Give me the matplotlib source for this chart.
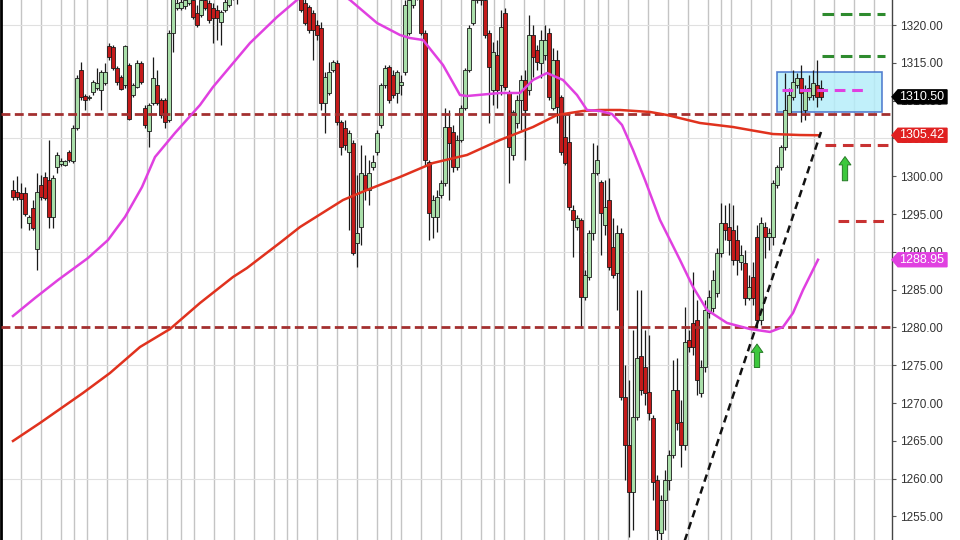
import matplotlib
matplotlib.use("Agg")
import matplotlib.pyplot as plt
from matplotlib.patches import Rectangle, Polygon
import numpy as np

plt.rcParams['font.family'] = ['Liberation Sans', 'DejaVu Sans']

# OHLC (one bar per entry)
opens = [1298.2, 1297.9, 1297.8, 1297.8, 1293.8, 1295.8, 1290.4, 1298.8, 1299.9, 1299.5,
         1294.6, 1301.2, 1301.6, 1301.5, 1303.2, 1302.0, 1306.4, 1314.1, 1310.6, 1310.3,
         1311.1, 1311.7, 1311.4, 1312.3, 1317.2, 1317.1, 1314.3, 1313.1, 1312.1, 1314.7,
         1310.7, 1311.8, 1315.0, 1309.0, 1306.0, 1309.7, 1312.1, 1310.1, 1310.1, 1307.4,
         1318.9, 1322.3, 1322.3, 1322.5, 1322.9, 1323.3, 1321.6, 1321.3, 1323.3, 1322.9,
         1322.3, 1322.0, 1320.4, 1322.0, 1322.6, 1323.7, 1324.4, 1324.0, 1325.3, 1326.2,
         1327.3, 1326.6, 1328.3, 1329.3, 1328.6, 1329.9, 1328.9, 1327.9, 1328.6, 1327.3,
         1326.2, 1325.3, 1324.0, 1322.9, 1322.4, 1321.6, 1320.0, 1319.6, 1309.7, 1311.0,
         1314.1, 1315.0, 1307.2, 1306.4, 1303.2, 1304.4, 1291.2, 1293.3, 1300.2, 1298.2,
         1301.2, 1303.2, 1306.8, 1312.1, 1314.4, 1313.4, 1311.0, 1312.1, 1313.8, 1318.9,
         1322.6, 1324.6, 1324.0, 1318.9, 1301.9, 1294.6, 1294.6, 1297.5, 1299.1, 1306.5,
         1305.8, 1301.2, 1304.8, 1309.0, 1314.1, 1320.3, 1323.3, 1324.4, 1323.3, 1318.9,
         1311.4, 1316.0, 1312.1, 1321.6, 1311.0, 1302.8, 1307.0, 1310.1, 1312.7, 1311.4,
         1318.7, 1316.7, 1315.0, 1316.0, 1318.9, 1309.0, 1315.4, 1310.5, 1305.2, 1304.5,
         1295.5, 1293.3, 1294.2, 1284.0, 1286.7, 1292.5, 1300.4, 1299.2, 1293.5, 1296.8,
         1290.6, 1287.2, 1292.5, 1270.8, 1264.4, 1258.2, 1268.1, 1276.2, 1274.7, 1271.5,
         1268.0, 1259.8, 1252.8, 1257.2, 1259.8, 1263.1, 1271.7, 1267.5, 1264.4, 1278.3,
         1280.6, 1281.0, 1271.3, 1274.7, 1281.9, 1282.6, 1284.6, 1289.8, 1293.8, 1293.3,
         1292.9, 1291.6, 1288.6, 1288.5, 1283.9, 1286.7, 1292.0, 1281.0, 1293.3, 1292.0,
         1292.0, 1298.8, 1301.2, 1303.9, 1308.4, 1310.5, 1312.1, 1313.0, 1308.8, 1310.5,
         1310.7, 1312.1, 1311.7]
highs = [1299.5, 1300.0, 1299.1, 1298.6, 1294.9, 1296.8, 1300.4, 1300.2, 1300.6, 1304.8,
         1300.2, 1303.2, 1302.4, 1302.1, 1303.5, 1306.8, 1313.4, 1315.1, 1310.9, 1310.7,
         1312.7, 1314.3, 1314.1, 1315.0, 1317.6, 1317.4, 1314.6, 1313.4, 1317.4, 1315.0,
         1312.3, 1315.4, 1315.2, 1309.4, 1309.7, 1315.8, 1314.1, 1310.3, 1310.3, 1319.3,
         1324.6, 1323.6, 1323.7, 1324.0, 1324.4, 1324.0, 1322.6, 1324.0, 1324.0, 1323.3,
         1322.9, 1322.6, 1322.0, 1323.6, 1324.4, 1325.3, 1325.3, 1326.0, 1327.0, 1327.9,
         1328.3, 1328.9, 1329.9, 1330.2, 1330.6, 1330.7, 1329.5, 1329.3, 1329.1, 1327.9,
         1326.9, 1326.0, 1324.6, 1324.0, 1322.6, 1322.0, 1320.7, 1320.4, 1313.8, 1315.1,
         1315.4, 1315.4, 1307.4, 1307.4, 1306.1, 1304.8, 1300.2, 1304.1, 1302.8, 1302.1,
         1302.8, 1306.1, 1312.3, 1314.7, 1314.7, 1314.1, 1314.1, 1313.4, 1323.3, 1324.0,
         1324.6, 1325.3, 1324.6, 1319.3, 1302.1, 1297.5, 1298.2, 1299.5, 1309.0, 1308.8,
         1306.8, 1305.5, 1309.4, 1314.3, 1320.0, 1324.0, 1324.9, 1324.9, 1324.0, 1319.3,
         1317.8, 1318.0, 1322.0, 1322.3, 1311.4, 1308.8, 1310.7, 1313.4, 1314.1, 1321.3,
         1320.0, 1317.4, 1319.3, 1320.0, 1319.6, 1317.0, 1316.7, 1310.7, 1308.1, 1308.4,
         1296.2, 1294.9, 1294.5, 1287.6, 1292.9, 1304.4, 1304.1, 1299.5, 1299.5, 1299.8,
         1294.5, 1293.5, 1293.2, 1275.0, 1273.0, 1279.7, 1284.9, 1284.9, 1279.7, 1279.0,
         1268.4, 1260.5, 1257.8, 1261.1, 1263.8, 1275.7, 1276.0, 1270.4, 1282.7, 1279.7,
         1287.3, 1283.6, 1275.7, 1283.6, 1284.9, 1287.6, 1290.5, 1296.5, 1296.2, 1296.5,
         1296.2, 1293.5, 1290.9, 1290.2, 1286.9, 1288.6, 1293.5, 1294.6, 1293.9, 1293.2,
         1299.5, 1301.5, 1304.1, 1313.7, 1311.7, 1314.1, 1313.7, 1314.7, 1312.1, 1313.4,
         1314.1, 1315.4, 1312.7]
lows = [1296.8, 1296.8, 1293.2, 1294.7, 1292.9, 1292.9, 1287.6, 1296.8, 1296.8, 1293.2,
        1293.2, 1300.4, 1301.3, 1301.3, 1301.9, 1301.7, 1306.1, 1310.1, 1308.8, 1310.1,
        1310.7, 1311.4, 1308.8, 1312.1, 1315.4, 1314.1, 1312.1, 1311.4, 1311.7, 1307.4,
        1310.5, 1311.7, 1312.2, 1306.4, 1303.9, 1309.4, 1309.4, 1307.7, 1306.4, 1307.2,
        1316.4, 1322.0, 1322.0, 1322.1, 1322.6, 1320.8, 1319.7, 1321.1, 1322.0, 1320.3,
        1317.6, 1318.0, 1317.4, 1321.7, 1322.4, 1323.3, 1322.8, 1323.6, 1324.9, 1325.7,
        1326.0, 1326.2, 1327.7, 1328.1, 1328.2, 1328.3, 1327.3, 1327.0, 1326.7, 1325.7,
        1324.6, 1323.7, 1321.7, 1320.0, 1318.9, 1315.4, 1318.0, 1308.8, 1305.7, 1310.7,
        1313.8, 1306.8, 1302.8, 1303.5, 1292.9, 1289.6, 1288.0, 1290.9, 1296.8, 1296.2,
        1300.8, 1302.8, 1306.4, 1311.7, 1309.7, 1310.3, 1309.7, 1310.7, 1313.4, 1318.7,
        1322.3, 1323.3, 1318.7, 1301.5, 1291.6, 1291.8, 1292.6, 1297.1, 1298.7, 1296.8,
        1300.6, 1300.8, 1304.5, 1308.8, 1313.8, 1320.0, 1322.9, 1322.6, 1318.3, 1307.0,
        1309.4, 1309.0, 1310.7, 1311.4, 1299.1, 1302.1, 1306.4, 1306.1, 1302.1, 1310.7,
        1313.1, 1314.1, 1313.0, 1315.4, 1310.1, 1308.8, 1307.0, 1302.8, 1301.5, 1295.5,
        1289.3, 1292.9, 1279.9, 1283.6, 1286.3, 1291.6, 1300.2, 1289.6, 1292.2, 1287.6,
        1286.5, 1282.3, 1270.4, 1259.8, 1252.3, 1253.2, 1267.7, 1271.1, 1269.7, 1267.7,
        1257.2, 1251.2, 1251.2, 1253.2, 1258.5, 1262.7, 1266.4, 1261.5, 1263.8, 1276.7,
        1276.3, 1271.1, 1270.8, 1274.1, 1281.2, 1282.0, 1284.0, 1289.3, 1291.6, 1289.6,
        1288.2, 1286.9, 1287.6, 1283.0, 1283.6, 1283.0, 1279.9, 1280.3, 1289.2, 1290.2,
        1290.9, 1298.4, 1300.8, 1303.5, 1308.1, 1310.1, 1311.7, 1307.2, 1307.4, 1310.1,
        1310.1, 1309.2, 1310.1]
closes = [1297.2, 1297.2, 1297.0, 1295.0, 1294.6, 1293.2, 1297.9, 1297.2, 1297.1, 1294.6,
          1299.8, 1302.8, 1302.0, 1302.0, 1302.1, 1306.4, 1313.0, 1310.5, 1310.1, 1310.5,
          1312.5, 1312.3, 1313.8, 1313.8, 1315.8, 1314.3, 1312.5, 1311.5, 1317.2, 1307.6,
          1312.1, 1315.0, 1312.5, 1306.8, 1309.4, 1313.0, 1309.7, 1308.1, 1307.2, 1318.9,
          1324.0, 1322.9, 1323.0, 1323.3, 1323.7, 1321.1, 1320.0, 1323.3, 1322.3, 1320.7,
          1320.9, 1320.9, 1321.7, 1323.0, 1323.7, 1324.6, 1323.6, 1325.3, 1326.2, 1327.3,
          1326.6, 1328.3, 1329.3, 1328.6, 1329.9, 1328.9, 1327.9, 1328.6, 1327.3, 1326.2,
          1325.3, 1324.1, 1322.0, 1320.3, 1319.3, 1319.3, 1318.7, 1309.7, 1313.1, 1313.8,
          1315.1, 1307.2, 1303.9, 1304.1, 1305.7, 1289.8, 1292.5, 1300.4, 1298.2, 1300.4,
          1301.9, 1305.7, 1312.1, 1314.3, 1310.1, 1310.7, 1313.8, 1312.5, 1322.6, 1323.3,
          1324.0, 1323.7, 1318.9, 1302.1, 1295.1, 1296.8, 1297.2, 1299.1, 1306.5, 1304.4,
          1301.2, 1304.8, 1309.0, 1314.1, 1319.6, 1323.3, 1324.4, 1323.3, 1318.7, 1314.4,
          1316.4, 1311.4, 1319.7, 1311.8, 1303.9, 1308.5, 1310.1, 1312.7, 1308.8, 1318.7,
          1315.8, 1315.1, 1318.0, 1318.0, 1310.5, 1315.4, 1309.2, 1303.2, 1301.7, 1295.9,
          1294.2, 1294.5, 1284.0, 1286.9, 1292.5, 1300.4, 1302.1, 1295.1, 1295.9, 1288.0,
          1286.9, 1292.5, 1270.8, 1264.4, 1258.2, 1268.1, 1276.0, 1271.7, 1271.3, 1268.7,
          1259.6, 1253.2, 1257.2, 1259.8, 1263.1, 1271.7, 1267.3, 1264.4, 1278.1, 1277.4,
          1277.4, 1273.0, 1274.7, 1282.3, 1284.0, 1286.3, 1289.8, 1293.8, 1292.9, 1291.6,
          1288.9, 1288.9, 1289.6, 1283.9, 1285.3, 1283.9, 1281.0, 1293.8, 1292.0, 1292.5,
          1299.1, 1301.2, 1303.9, 1308.8, 1310.7, 1312.5, 1313.0, 1311.0, 1311.4, 1311.7,
          1312.3, 1310.5, 1310.5]

# moving averages (bar index, price)
slow_x = [0, 6.75, 17.5, 24.25, 31.75, 39.25, 46.75, 55, 58.5, 66.75, 71.75, 82.5, 88.5,
          96.75, 105, 113.5, 121.75, 130, 136, 142.5, 146.75, 151.75, 159.25, 163.5, 171.75,
          180, 184.25, 190, 196.75, 201.25]
slow_ma = [1264.98, 1267.36, 1271.33, 1273.97, 1277.41, 1279.79, 1283.23, 1286.67, 1287.86,
           1291.2, 1293.28, 1296.85, 1298.18, 1299.90, 1301.75, 1302.81, 1304.79, 1306.51,
           1308.10, 1308.63, 1308.76, 1308.76, 1308.50, 1308.10, 1307.04, 1306.51, 1306.11,
           1305.58, 1305.45, 1305.42]
fast_x = [0, 5.5, 11.25, 18.75, 23.75, 28, 32.25, 35.5, 40.5, 46.75, 50, 59.25, 66, 71,
          76.75, 80.5, 84.25, 91, 96.75, 99.25, 102.5, 107.5, 111.75, 113.5, 121.75, 126.75,
          130, 133.5, 137.5, 141, 143.5, 146.75, 149.75, 152.25, 155, 158, 161.75, 166.75,
          170, 173.5, 178.5, 184.25, 189.25, 192.5, 195, 197.5, 201.25]
fast_ma = [1281.51, 1283.89, 1286.27, 1289.18, 1291.56, 1294.61, 1298.57, 1302.54, 1305.72,
           1309.42, 1311.80, 1317.62, 1321.06, 1323.31, 1325.3, 1324.6, 1323.31, 1320.27,
           1318.68, 1318.28, 1318.02, 1314.71, 1310.74, 1310.61, 1311.01, 1311.01, 1312.73,
           1313.65, 1312.73, 1310.74, 1308.76, 1308.63, 1308.23, 1306.78, 1303.47, 1299.50,
           1294.21, 1288.92, 1285.35, 1282.31, 1280.59, 1279.79, 1279.40, 1280.06, 1281.91,
           1284.95, 1288.95]

levels = [1308.2, 1280.0]
targets_up = [1321.46, 1315.90]
target_pivot = 1311.41
stop_hi = 1304.13
stop_lo = 1294.12
box_lo, box_hi = 1308.5, 1313.8
trend_x = [167.75, 202]
trend_y = [1251.5, 1305.85]
session_x = [2, 7, 12, 15.25, 18.6, 23.6, 28.6, 33.6, 38.6, 42, 45.25, 50.25, 55.25, 60.25,
             65.25, 68.6, 71.1, 76.1, 81.1, 86.1, 91.1, 94.5, 97, 102, 107, 112, 117, 120.25,
             122.75, 127.75, 132.75, 137.75, 142.75, 146.25, 148.75, 153.75, 158.75, 163.75,
             168.75, 173.75, 177, 179.5, 184.5, 189.5, 194.5, 200.25, 205.25, 210.25, 215.25]
price_ticks = np.arange(1255, 1321, 5)
hgrid = [1260, 1275, 1290, 1305, 1320]

o = np.array(opens)
c = np.array(closes)
idx = np.arange(len(c))

fig = plt.figure(figsize=(9.6, 5.4), dpi=100)
ax = fig.add_axes([1 / 960, 0, 891 / 960, 1])
ax.set_xlim(-3, 219.75)
ax.set_ylim(1251.88, 1323.31)

for g in session_x:
    ax.axvline(g, color='#c4c4c4', lw=1, zorder=0)
for h in hgrid:
    ax.axhline(h, color='#e0e0e0', lw=0.8, zorder=0)

ax.add_patch(Rectangle((191, box_lo), 26.25, box_hi - box_lo, fc='#b6eefa', ec='#3c6cc8',
                       lw=1.2, alpha=0.85, zorder=1.5))

cols = np.where(c >= o, '#a9dea9', '#c41a1a')
ax.vlines(idx, lows, highs, color='#1a1a1a', lw=0.9, zorder=2)
ax.bar(idx, np.abs(c - o), bottom=np.minimum(o, c), width=1.1, color=cols,
       edgecolor='#1a1a1a', linewidth=0.6, zorder=3)

for lv in levels:
    ax.axhline(lv, color='#a33030', lw=2, ls=(0, (3.2, 1.6)), zorder=4)

ax.plot(slow_x, slow_ma, color='#e0321e', lw=1.8, zorder=5)
ax.plot(fast_x, fast_ma, color='#e040e0', lw=1.8, zorder=5)
ax.plot(trend_x, trend_y, color='#111111', lw=1.8, ls=(0, (3, 2)), zorder=5)

ax.hlines(targets_up, 202.25, 218, color='#2e8b2e', lw=2.2, ls=(0, (3.8, 2.2)), zorder=5)
ax.hlines(target_pivot, 192.25, 213.75, color='#e040e0', lw=2.2, ls=(0, (3.5, 2.2)), zorder=5)
ax.hlines(stop_hi, 203, 218.75, color='#c83232', lw=2.2, ls=(0, (3.5, 2.2)), zorder=5)
ax.hlines(stop_lo, 206.25, 218, color='#c83232', lw=2.2, ls=(0, (3.5, 2.2)), zorder=5)

arrow_style = dict(arrowstyle='simple,head_length=0.6,head_width=0.85,tail_width=0.38',
                   fc='#3cc83c', ec='#267a26', lw=0.7, shrinkA=0, shrinkB=0, mutation_scale=10)
ax.annotate('', xy=(208, 1302.6), xytext=(208, 1299.4), arrowprops=arrow_style, zorder=6)
ax.annotate('', xy=(186, 1277.8), xytext=(186, 1274.7), arrowprops=arrow_style, zorder=6)

ax.yaxis.tick_right()
ax.set_yticks(price_ticks)
ax.set_yticklabels([f'{t:.2f}' for t in price_ticks])
ax.tick_params(axis='y', direction='out', length=3, width=0.8, color='#555555',
               labelcolor='#333333', labelsize=8.5, pad=3)
ax.set_xticks([])
ax.spines['top'].set_visible(False)
ax.spines['bottom'].set_visible(False)
ax.spines['left'].set_color('#000000')
ax.spines['left'].set_linewidth(2)
ax.spines['right'].set_color('#444444')
ax.spines['right'].set_linewidth(1)

# price tags on the axis
ov = fig.add_axes([0, 0, 1, 1], zorder=10)
ov.set_xlim(0, 960)
ov.set_ylim(0, 540)
ov.axis('off')
ov.patch.set_alpha(0)
tags = [(closes[-1], '#000000'), (slow_ma[-1], '#e02020'), (fast_ma[-1], '#e040e0')]
for val, colr in tags:
    y = ax.transData.transform((0, val))[1]
    ov.add_patch(Polygon([(892, y), (898, y + 7), (947, y + 7), (947, y - 7), (898, y - 7)],
                         closed=True, fc=colr, ec=colr))
    ov.text(922, y, f'{val:.2f}', color='white', ha='center', va='center', fontsize=9)

fig.savefig('out.png', dpi=100, facecolor='white')
